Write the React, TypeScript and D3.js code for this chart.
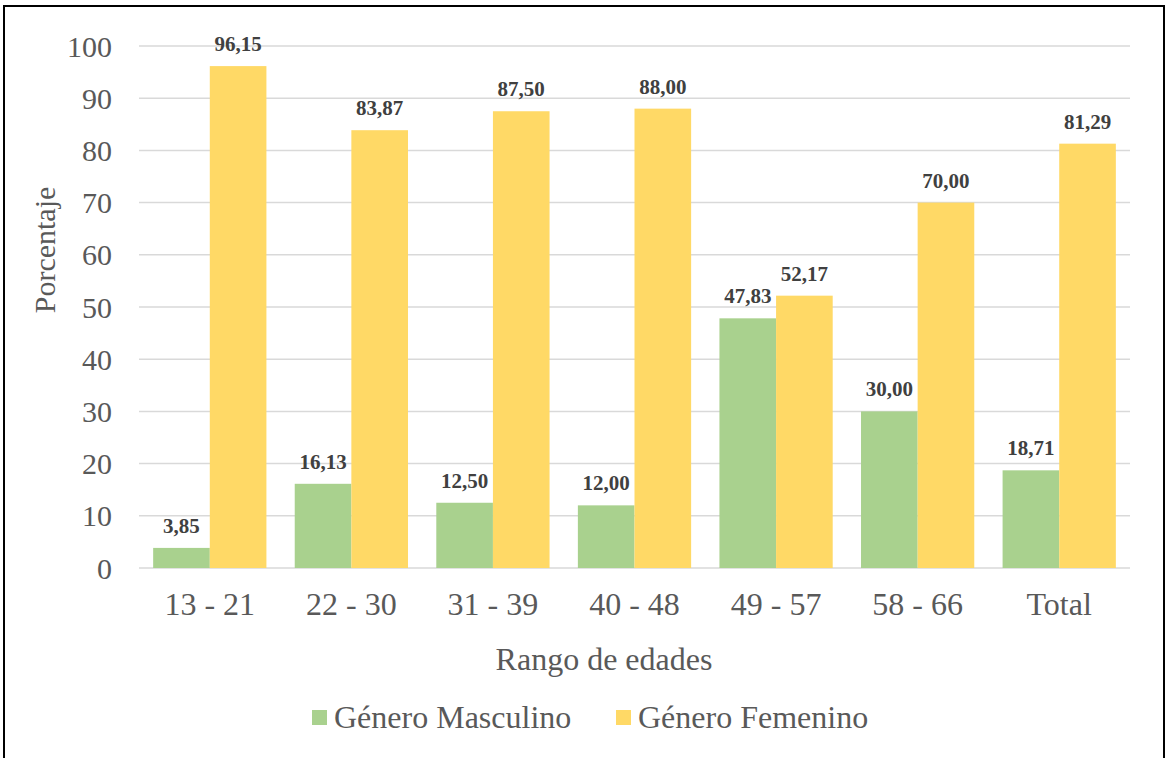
import React from 'react'
import * as d3 from 'd3'

// chart values
const categories = ['13 - 21', '22 - 30', '31 - 39', '40 - 48', '49 - 57', '58 - 66', 'Total']
const masculino = [3.85, 16.13, 12.5, 12.0, 47.83, 30.0, 18.71]
const femenino = [96.15, 83.87, 87.5, 88.0, 52.17, 70.0, 81.29]
const seriesNames = ['Género Masculino', 'Género Femenino']
const yTicks = [0, 10, 20, 30, 40, 50, 60, 70, 80, 90, 100]

const colors = ['#A9D18E', '#FFD966']
const W = 1165
const H = 758
const font = 'Liberation Serif'
const gray = '#595959'

const App = () => {
  const x = d3.scaleBand().domain(categories).range([139, 1130]).paddingInner(0.2).paddingOuter(0.1)
  const x1 = d3.scaleBand().domain(seriesNames).range([0, x.bandwidth()])
  const y = d3.scaleLinear().domain([0, 100]).range([568, 46])
  const fmt = (v: number) => d3.format('.2f')(v).replace('.', ',')
  const series = [masculino, femenino]
  // legend positions (square left edge)
  const legendX = [312, 616]

  return (
    <svg width={W} height={H} style={{ position: 'absolute', left: 0, top: 0, fontFamily: font }}>
      <rect x={0} y={0} width={W} height={H} fill="#fff" />
      {/* frame runs off the right and bottom edges of the picture */}
      <rect x={4} y={6} width={1160} height={770} fill="none" stroke="#000" strokeWidth={2} />

      {/* gridlines + y ticks */}
      {yTicks.map((t) => (
        <g key={t}>
          <line x1={139} x2={1130} y1={y(t)} y2={y(t)} stroke="#D9D9D9" strokeWidth={1.5} />
          <text x={112} y={y(t)} dy="0.35em" textAnchor="end" fontSize={30} fill={gray}>
            {t}
          </text>
        </g>
      ))}

      {/* bars */}
      {categories.map((c, i) => (
        <g key={c} transform={`translate(${x(c)},0)`}>
          {series.map((s, j) => {
            const bx = x1(seriesNames[j]) as number
            return (
              <g key={j}>
                <rect x={bx} y={y(s[i])} width={x1.bandwidth()} height={y(0) - y(s[i])} fill={colors[j]} />
                <text
                  x={bx + x1.bandwidth() / 2}
                  y={y(s[i]) - 15}
                  textAnchor="middle"
                  fontSize={21}
                  fontWeight="bold"
                  fill="#404040"
                >
                  {fmt(s[i])}
                </text>
              </g>
            )
          })}
          <text x={x.bandwidth() / 2} y={615} textAnchor="middle" fontSize={32} fill={gray}>
            {c}
          </text>
        </g>
      ))}

      {/* axis titles */}
      <text x={604} y={670} textAnchor="middle" fontSize={32} fill={gray}>
        Rango de edades
      </text>
      <text transform="translate(55,250) rotate(-90)" textAnchor="middle" fontSize={30} fill={gray}>
        Porcentaje
      </text>

      {/* legend */}
      {seriesNames.map((name, j) => (
        <g key={name}>
          <rect x={legendX[j]} y={710} width={15} height={15} fill={colors[j]} />
          <text x={legendX[j] + 22} y={728} fontSize={32} fill={gray}>
            {name}
          </text>
        </g>
      ))}
    </svg>
  )
}

export default App
